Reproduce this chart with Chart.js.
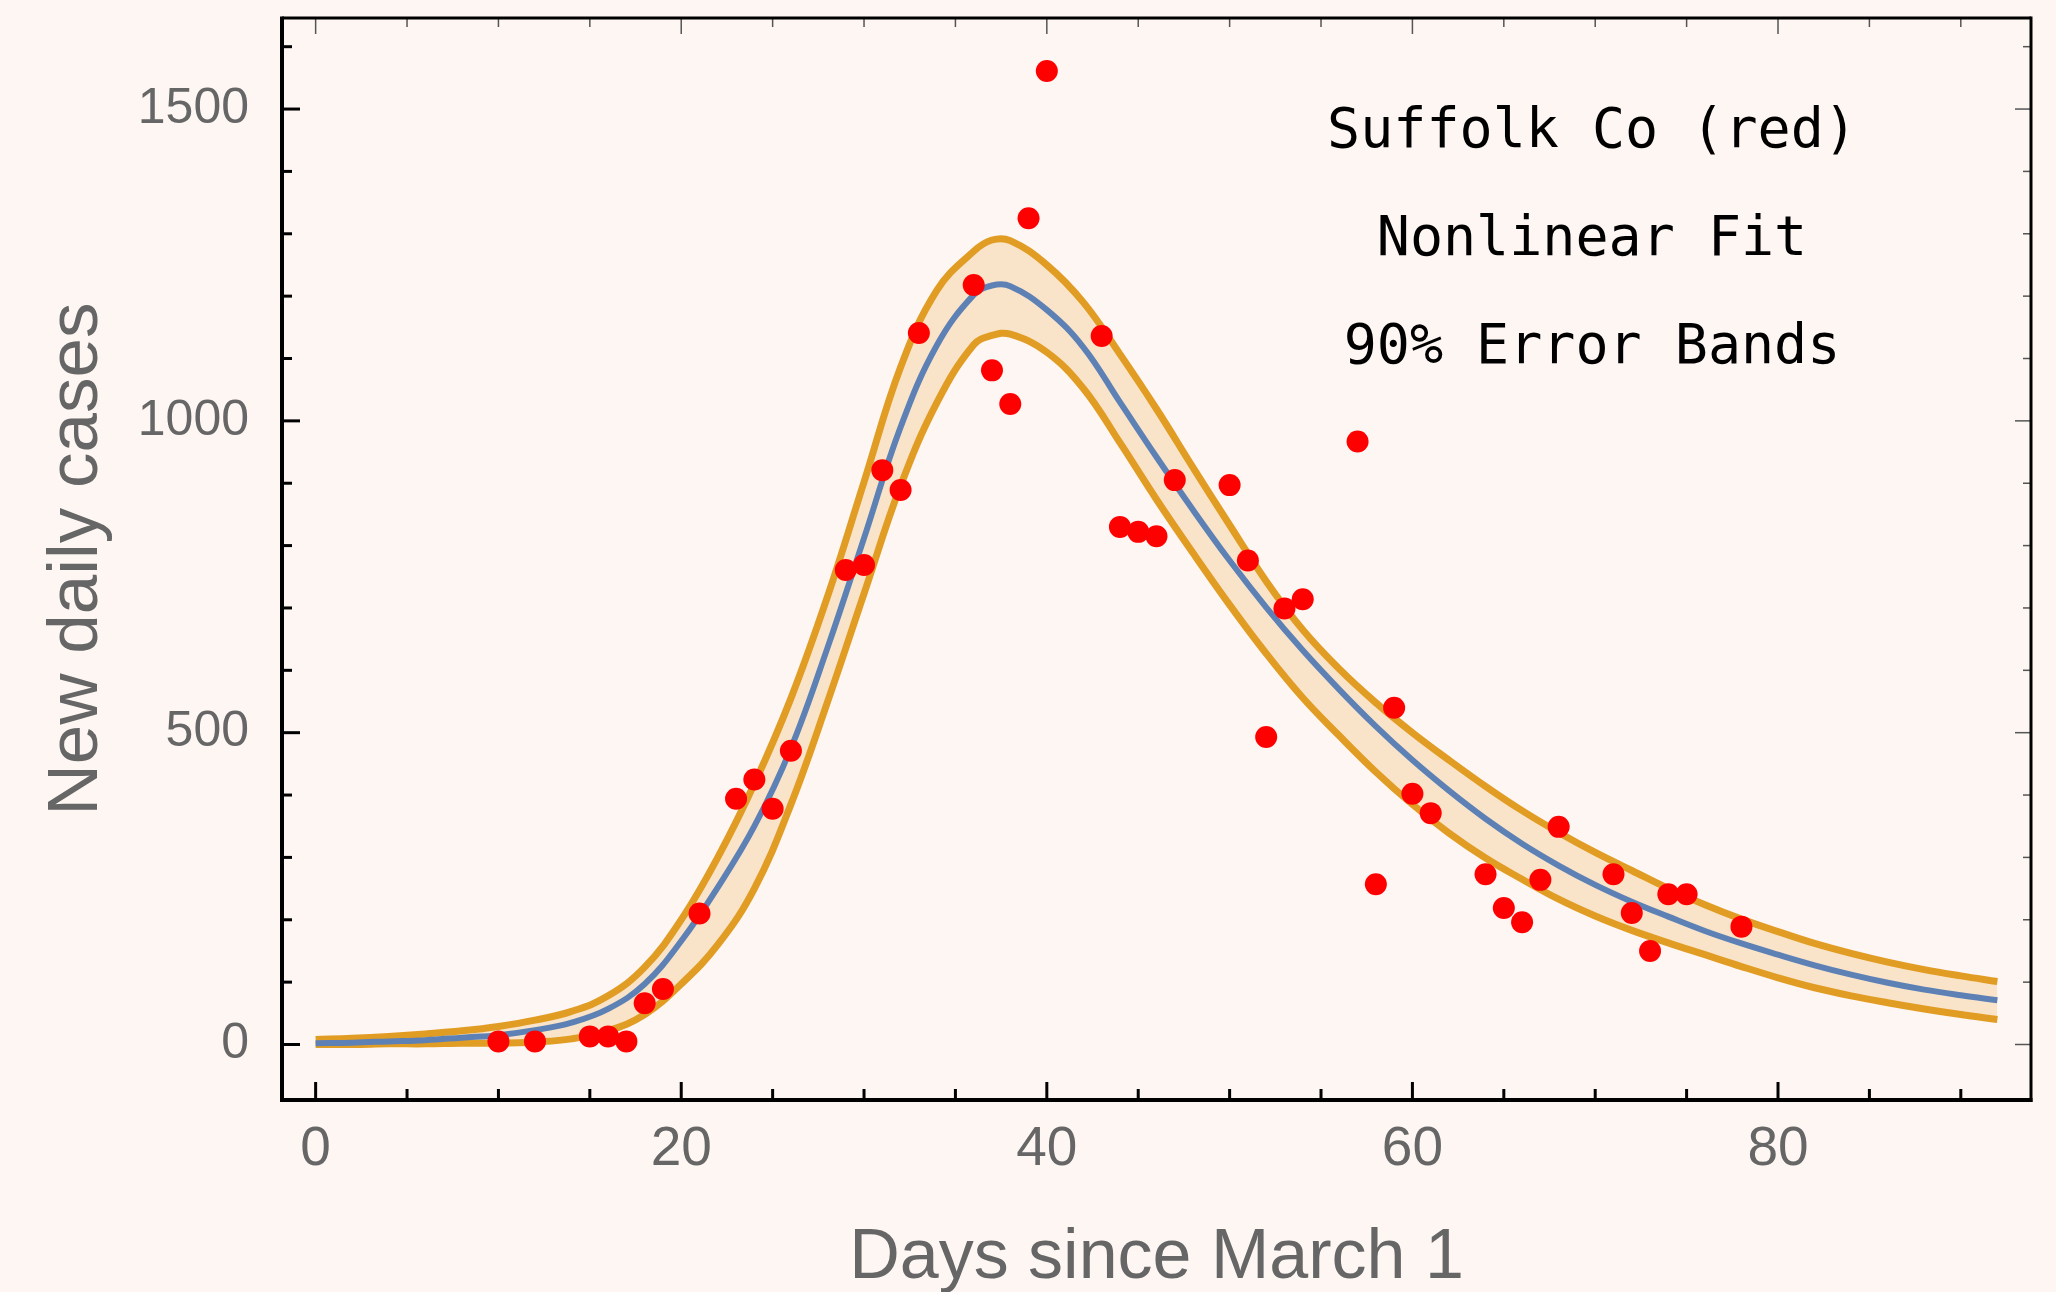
<!DOCTYPE html>
<html>
<head>
<meta charset="utf-8">
<script src="https://cdn.jsdelivr.net/npm/chart.js@4"></script>
<style>
  html, body { margin: 0; padding: 0; background: #FEF6F3; }
  canvas { display: block; }
</style>
</head>
<body>
<canvas id="myChart" width="2056" height="1292"></canvas>
<script>
// observed daily cases (red dots)
const days = [10, 12, 15, 16, 17, 18, 19, 21, 23, 24, 25, 26, 29, 30, 31, 32, 33, 36, 37, 38, 39, 40,
  43, 44, 45, 46, 47, 50, 51, 52, 53, 54, 57, 58, 59, 60, 61, 64, 65, 66, 67, 68, 71, 72, 73, 74, 75, 78];
const cases = [5, 5, 13, 13, 5, 66, 89, 210, 394, 425, 378, 471, 761, 769, 921, 889, 1141, 1218, 1081, 1027, 1325, 1561,
  1136, 830, 822, 815, 905, 897, 776, 493, 699, 714, 967, 257, 540, 402, 371, 273, 219, 196, 264, 349, 273, 211, 150, 241, 241, 189];

// fitted curve and 90% band
const fitX = [0, 2, 4, 6, 8, 10, 12, 14, 16, 18, 20, 22, 24, 26, 28, 30, 32, 34, 36, 37, 38, 40, 42, 44, 46, 48,
  50, 52, 54, 56, 58, 60, 62, 64, 66, 68, 70, 72, 74, 76, 78, 80, 82, 84, 86, 88, 90, 92];
const fitMid = [2, 3, 5, 7, 11, 15, 23, 35, 57, 97, 166, 252, 350, 475, 636, 812, 990, 1122, 1202, 1217, 1216, 1178, 1118, 1030, 942, 857,
  776, 701, 632, 569, 510, 456, 407, 362, 322, 287, 256, 229, 205, 182, 162, 144, 127, 112, 99, 88, 79, 71];
const fitUpper = [8, 10, 13, 17, 22, 29, 39, 53, 78, 124, 200, 300, 418, 555, 718, 902, 1086, 1210, 1272, 1290, 1289, 1250, 1190, 1107, 1019, 925,
  833, 743, 665, 602, 548, 500, 456, 414, 375, 340, 308, 279, 250, 224, 201, 181, 162, 146, 132, 120, 110, 101];
const fitLower = [0, 0, 1, 1, 2, 2, 4, 9, 22, 48, 97, 160, 250, 385, 549, 723, 896, 1030, 1122, 1137, 1139, 1110, 1052, 965, 874, 788,
  705, 627, 556, 495, 437, 385, 339, 299, 265, 233, 206, 183, 163, 144, 125, 107, 91, 78, 67, 57, 48, 40];

const xTicks = [0, 20, 40, 60, 80];
const yTicks = [0, 500, 1000, 1500];
const notes = ['Suffolk Co (red)', 'Nonlinear Fit', '90% Error Bands'];

const pts = (xs, ys) => xs.map((v, i) => ({x: v, y: ys[i]}));

const frameTicks = {
  id: 'frameTicks',
  beforeDraw(chart) {
    const ctx = chart.ctx;
    ctx.save();
    ctx.fillStyle = '#FEF6F3';
    ctx.fillRect(0, 0, chart.width, chart.height);
    ctx.restore();
  },
  afterDraw(chart) {
    const {ctx, chartArea: a, scales: {x, y}} = chart;
    const line = (x1, y1, x2, y2, w, c) => {
      ctx.beginPath();
      ctx.lineWidth = w;
      ctx.strokeStyle = c;
      ctx.moveTo(x1, y1);
      ctx.lineTo(x2, y2);
      ctx.stroke();
    };
    ctx.save();
    for (let v = 0; v <= 90; v += 5) {
      const px = x.getPixelForValue(v);
      const major = v % 20 === 0;
      line(px, a.bottom, px, a.bottom - (major ? 18 : 11), 3, '#000');
      line(px, a.top, px, a.top + (major ? 16 : 9), 1.5, '#555');
    }
    for (let v = 0; v <= 1600; v += 100) {
      const py = y.getPixelForValue(v);
      const major = v % 500 === 0;
      line(a.left, py, a.left + (major ? 18 : 10), py, 3, '#000');
      line(a.right, py, a.right - (major ? 16 : 8), py, 1.5, '#555');
    }
    line(a.left, a.top - 1.5, a.left, a.bottom + 2, 4, '#000');
    line(a.left - 2, a.bottom, a.right + 1.5, a.bottom, 4, '#000');
    line(a.left, a.top, a.right, a.top, 3, '#000');
    line(a.right, a.top - 1.5, a.right, a.bottom + 2, 3, '#000');

    ctx.fillStyle = '#000';
    ctx.font = '55px "DejaVu Sans Mono"';
    ctx.textAlign = 'center';
    ctx.textBaseline = 'alphabetic';
    notes.forEach((t, i) => ctx.fillText(t, 1592, 147 + i * 108));
    ctx.restore();
  }
};

let myChart = document.getElementById('myChart').getContext('2d');

let covidChart = new Chart(myChart, {
  type: 'scatter',
  data: {
    datasets: [{
        label: 'Suffolk Co',
        data: pts(days, cases),
        pointRadius: 11,
        pointHoverRadius: 11,
        backgroundColor: '#FF0000',
        borderWidth: 0,
        order: 0
      },
      {
        label: 'Fit',
        data: pts(fitX, fitMid),
        showLine: true,
        pointRadius: 0,
        borderColor: '#5E81B5',
        borderWidth: 6,
        tension: 0.4,
        order: 1
      },
      {
        label: 'Upper',
        data: pts(fitX, fitUpper),
        showLine: true,
        pointRadius: 0,
        borderColor: '#E19C24',
        borderWidth: 7,
        tension: 0.4,
        fill: '+1',
        backgroundColor: '#F9E4C9',
        order: 2
      },
      {
        label: 'Lower',
        data: pts(fitX, fitLower),
        showLine: true,
        pointRadius: 0,
        borderColor: '#E19C24',
        borderWidth: 7,
        tension: 0.4,
        fill: false,
        order: 3
      }
    ]
  },
  options: {
    responsive: false,
    animation: false,
    events: [],
    layout: {
      padding: {left: 0, top: 18, right: 25, bottom: 0}
    },
    plugins: {
      legend: {display: false},
      tooltip: {enabled: false},
      filler: {drawTime: 'beforeDatasetsDraw'}
    },
    scales: {
      x: {
        type: 'linear',
        min: -1.84,
        max: 93.84,
        grid: {display: false, drawTicks: false},
        border: {display: false},
        afterBuildTicks: (scale) => { scale.ticks = xTicks.map(v => ({value: v})); },
        afterFit: (scale) => {
          scale.height = 192;
          scale.paddingLeft = 0;
          scale.paddingRight = 0;
        },
        ticks: {
          color: '#666666',
          padding: 17,
          maxRotation: 0,
          callback: (value) => String(value),
          font: {family: 'Liberation Sans', size: 55}
        },
        title: {
          display: true,
          text: 'Days since March 1',
          color: '#666666',
          padding: {top: 0, bottom: 2},
          font: {family: 'Liberation Sans', size: 70, lineHeight: 0.9}
        }
      },
      y: {
        min: -89,
        max: 1646,
        grid: {display: false, drawTicks: false},
        border: {display: false},
        afterBuildTicks: (scale) => { scale.ticks = yTicks.map(v => ({value: v})); },
        afterFit: (scale) => {
          scale.width = 282;
          scale.paddingTop = 0;
          scale.paddingBottom = 0;
        },
        ticks: {
          color: '#666666',
          padding: 33,
          callback: (value) => String(value),
          font: {family: 'Liberation Sans', size: 50}
        },
        title: {
          display: true,
          text: 'New daily cases',
          color: '#666666',
          padding: {top: 35, bottom: 0},
          font: {family: 'Liberation Sans', size: 71}
        }
      }
    }
  },
  plugins: [frameTicks]
});
</script>
</body>
</html>
